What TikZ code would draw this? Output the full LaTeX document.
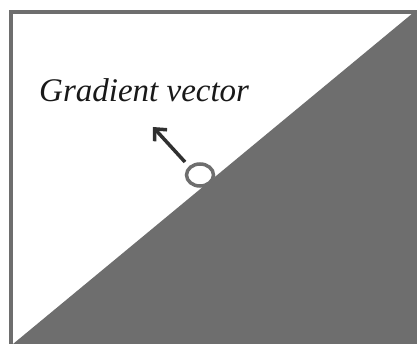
\documentclass[tikz,border=0pt]{standalone}
\usepackage{fontspec}
\usetikzlibrary{shapes.geometric,arrows.meta}
\setmainfont{Liberation Serif}
\definecolor{slope}{HTML}{6E6E6E}
\definecolor{inkdark}{HTML}{303030}
\begin{document}
\begin{tikzpicture}[x=1pt,y=-1pt,
  framebox/.style={draw=slope,line width=4.5pt},
  ringmark/.style={ellipse,draw=slope,line width=3.5pt,fill=white,minimum width=27pt,minimum height=22pt,inner sep=0pt},
  gradarrow/.style={draw=inkdark,line width=3.5pt,-{Straight Barb[length=9pt,width=17pt,line width=3.5pt]}},
  labeltext/.style={font=\itshape\fontsize{33}{33}\selectfont,text=black!90,anchor=base west,inner sep=0pt}]
\useasboundingbox (0,0) rectangle (417,344);
\fill[white] (0,0) rectangle (417,344);
\fill[slope] (13,344) -- (413,13) -- (417,12) -- (417,344) -- cycle;
\draw[framebox] (11,344) -- (11,12) -- (417,12);
\node[labeltext] (lab) at (39,102) {Gradient vector};
\node[ringmark] (ring) at (200,175) {};
\coordinate (tip) at (153,127);
\coordinate (tail) at (185,162);
\draw[gradarrow] (tail) -- (tip);
\end{tikzpicture}
\end{document}
